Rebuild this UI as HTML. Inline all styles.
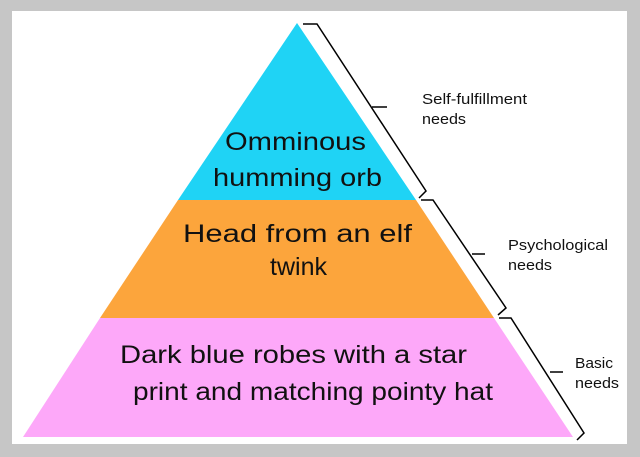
<!DOCTYPE html>
<html><head><style>
body{margin:0;background:#c8c8c8;}
svg{display:block}
</style></head><body>
<svg width="640" height="457" xmlns="http://www.w3.org/2000/svg">
<rect x="0" y="0" width="640" height="457" fill="#c6c6c6"/>
<rect x="12" y="11" width="615" height="433" fill="#fff"/>
<polygon points="297,23 416,200 178,200" fill="#1fd3f5"/>
<polygon points="178,200 416,200 494,318 100,318" fill="#fca53c"/>
<polygon points="100,318 494,318 573,437 23,437" fill="#fda8f9"/>
<g fill="none" stroke="#000" stroke-width="1.5">
<polyline points="303,24 317,24 426,191 419,198"/>
<line x1="372" y1="107" x2="387" y2="107"/>
<polyline points="421,200 433,200 506,308 498,315"/>
<line x1="472" y1="254" x2="485" y2="254"/>
<polyline points="499,318 511,318 584,433 577,440"/>
<line x1="550" y1="372" x2="563" y2="372"/>
</g>
<g font-family="'Liberation Sans',sans-serif" font-size="15" fill="#111" lengthAdjust="spacingAndGlyphs">
<text x="422" y="104" textLength="105" lengthAdjust="spacingAndGlyphs">Self-fulfillment</text>
<text x="422" y="124" textLength="44" lengthAdjust="spacingAndGlyphs">needs</text>
<text x="508" y="250" textLength="100" lengthAdjust="spacingAndGlyphs">Psychological</text>
<text x="508" y="270" textLength="44" lengthAdjust="spacingAndGlyphs">needs</text>
<text x="575" y="368" textLength="38" lengthAdjust="spacingAndGlyphs">Basic</text>
<text x="575" y="388" textLength="44" lengthAdjust="spacingAndGlyphs">needs</text>
</g>
<g font-family="'Liberation Sans',sans-serif" font-size="25" fill="#111">
<text x="225" y="150" textLength="141" lengthAdjust="spacingAndGlyphs">Omminous</text>
<text x="213" y="186" textLength="169" lengthAdjust="spacingAndGlyphs">humming orb</text>
<text x="183" y="242" textLength="229" lengthAdjust="spacingAndGlyphs">Head from an elf</text>
<text x="270" y="275" textLength="57" lengthAdjust="spacingAndGlyphs">twink</text>
<text x="120" y="363" textLength="347" lengthAdjust="spacingAndGlyphs">Dark blue robes with a star</text>
<text x="133" y="400" textLength="360" lengthAdjust="spacingAndGlyphs">print and matching pointy hat</text>
</g>
</svg>
</body></html>
